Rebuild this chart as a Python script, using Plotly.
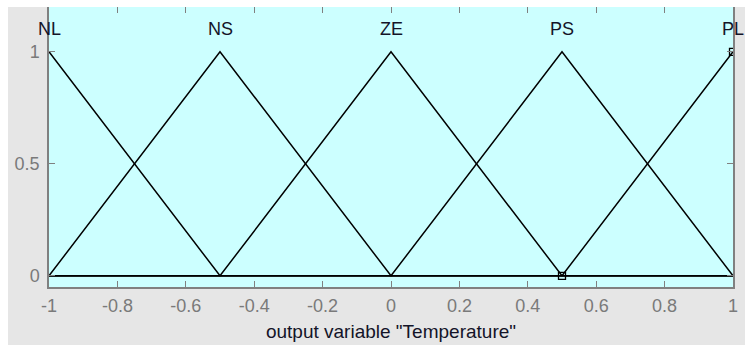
import numpy as np
import plotly.graph_objects as go

# Output variable "Temperature": five triangular membership functions on [-1, 1]
mf_names = ["NL", "NS", "ZE", "PS", "PL"]
mf_a = [-1.5, -1.0, -0.5, 0.0, 0.5]
mf_b = [-1.0, -0.5, 0.0, 0.5, 1.0]
mf_c = [-0.5, 0.0, 0.5, 1.0, 1.5]

x_range = [-1.0, 1.0]
x_ticks = [-1, -0.8, -0.6, -0.4, -0.2, 0, 0.2, 0.4, 0.6, 0.8, 1]
x_ticktext = ["-1", "-0.8", "-0.6", "-0.4", "-0.2", "0", "0.2", "0.4", "0.6", "0.8", "1"]
y_ticks = [0, 0.5, 1]
y_ticktext = ["0", "0.5", "1"]
selected_mf = "PL"

FONT = "Liberation Sans, Arial"


def trimf(x, a, b, c):
    x = np.asarray(x, dtype=float)
    up = (x - a) / (b - a) if b != a else np.ones_like(x)
    down = (c - x) / (c - b) if c != b else np.ones_like(x)
    return np.clip(np.minimum(up, down), 0, 1)


fig = go.Figure()

for name, a, b, c in zip(mf_names, mf_a, mf_b, mf_c):
    pts = sorted(set([x_range[0], x_range[1]] + [v for v in (a, b, c) if x_range[0] <= v <= x_range[1]]))
    xs = np.array(pts)
    ys = trimf(xs, a, b, c)
    fig.add_trace(go.Scatter(x=xs, y=ys, mode="lines", name=name,
                             line=dict(color="black", width=1.5), hoverinfo="skip"))
    fig.add_annotation(x=b, y=1.1, text=name, showarrow=False,
                       font=dict(family=FONT, size=18, color="#141428"),
                       xanchor="center", yanchor="middle")

# vertex handles of the selected membership function
k = mf_names.index(selected_mf)
vx = [v for v in (mf_a[k], mf_b[k], mf_c[k]) if x_range[0] <= v <= x_range[1]]
vy = list(trimf(vx, mf_a[k], mf_b[k], mf_c[k]))
fig.add_trace(go.Scatter(x=vx, y=vy, mode="markers",
                         marker=dict(symbol="square-open", size=7, color="black",
                                     line=dict(width=1.3, color="black")),
                         hoverinfo="skip"))

W, H = 745, 345
ml, mr, mt, mb = 49, 12, 5, 58
pw = W - ml - mr
ph = H - mt - mb

fig.update_layout(
    width=W, height=H,
    margin=dict(l=ml, r=mr, t=mt, b=mb, pad=0),
    paper_bgcolor="#e6e6e6",
    plot_bgcolor="#ccffff",
    showlegend=False,
    font=dict(family=FONT, size=18, color="#7a7a7a"),
    shapes=[
        # white border strips along the top and left edges of the window
        dict(type="rect", xref="paper", yref="paper", layer="above",
             x0=-(ml + 5) / pw, x1=(8 - ml) / pw, y0=-(mb + 5) / ph, y1=(ph + mt + 5) / ph,
             fillcolor="white", line=dict(width=0)),
        dict(type="rect", xref="paper", yref="paper", layer="above",
             x0=-(ml + 5) / pw, x1=(W + 5 - ml) / pw, y0=1.0, y1=(ph + mt + 5) / ph,
             fillcolor="white", line=dict(width=0)),
    ],
)

fig.update_xaxes(
    range=x_range, tickvals=x_ticks, ticktext=x_ticktext,
    ticks="inside", ticklen=6, tickcolor="#808080", tickwidth=1,
    showline=True, linecolor="#808080", linewidth=1.5, mirror="ticks",
    showgrid=False, zeroline=False, ticklabelstandoff=2,
    tickfont=dict(family=FONT, size=18, color="#7a7a7a"),
    title=dict(text='output variable "Temperature"', standoff=9,
               font=dict(family=FONT, size=19, color="#141428")),
)
fig.update_yaxes(
    range=[-0.05, 1.2], tickvals=y_ticks, ticktext=y_ticktext,
    ticks="inside", ticklen=6, tickcolor="#808080", tickwidth=1,
    showline=True, linecolor="#808080", linewidth=1.5, mirror="ticks",
    showgrid=False, zeroline=False, ticklabelstandoff=4,
    tickfont=dict(family=FONT, size=18, color="#7a7a7a"),
)

fig.write_html("out.html")
